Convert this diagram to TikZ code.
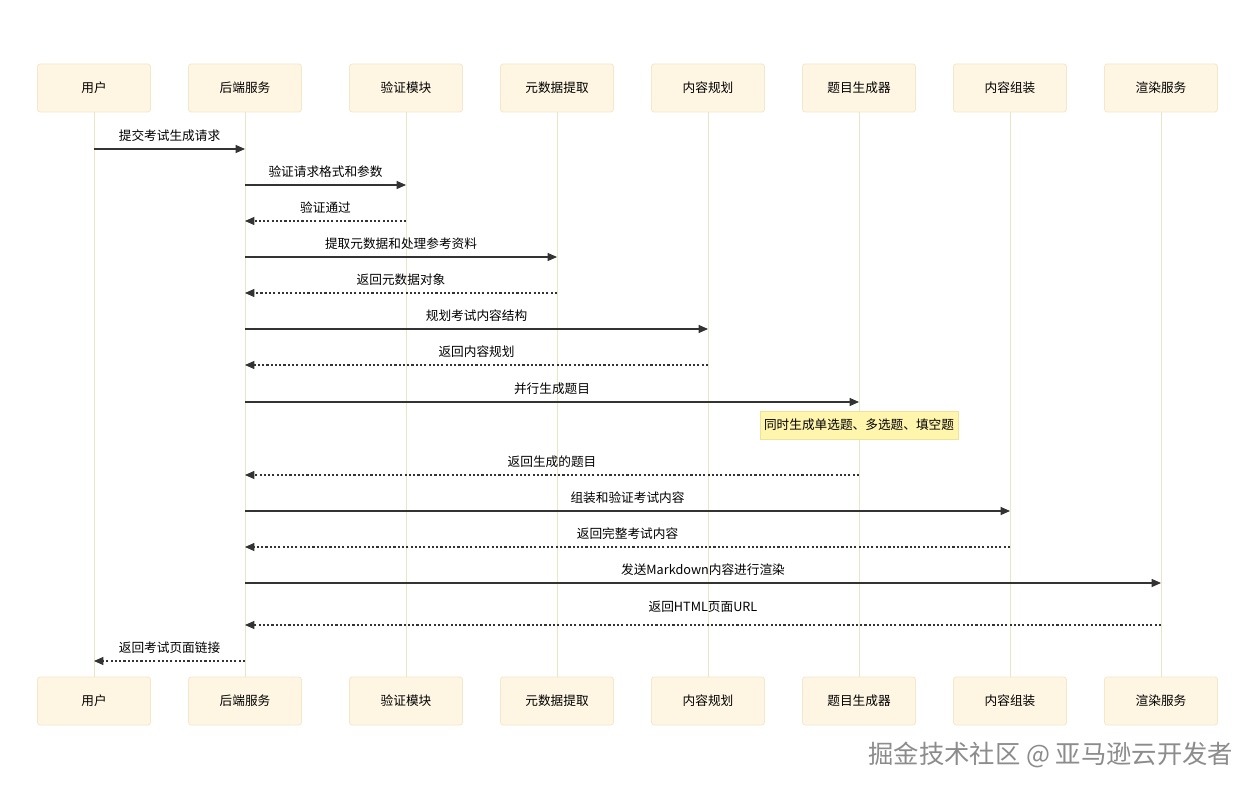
\documentclass[tikz,border=0pt]{standalone}
\usepackage{fontspec}
\setmainfont{Noto Sans CJK SC}
\usepackage{xcolor}
\usepackage{tikz}
\usetikzlibrary{arrows.meta,positioning}
\definecolor{actfill}{HTML}{FEF6E3}
\definecolor{actdraw}{HTML}{F3E8CC}
\definecolor{lifeln}{HTML}{E9E6C4}
\definecolor{notefill}{HTML}{FFF5AD}
\definecolor{notedraw}{HTML}{EEE39C}
\definecolor{msgcol}{HTML}{333333}
\tikzset{
  actor/.style={rectangle, rounded corners=2pt, draw=actdraw, line width=0.6pt,
                fill=actfill, minimum width=84.75pt, minimum height=36pt,
                font=\fontsize{9.5}{11}\selectfont},
  life/.style={draw=lifeln, line width=0.75pt},
  call/.style={-{Triangle[length=7pt,width=6pt]}, line width=0.8pt, draw=msgcol},
  reply/.style={call, dash pattern=on 1.6pt off 1.6pt},
  lbl/.style={above=5pt, inner sep=0pt, font=\fontsize{9.5}{11}\selectfont},
  notebox/.style={rectangle, draw=notedraw, line width=0.6pt, fill=notefill,
                  minimum width=148.5pt, minimum height=21pt, inner sep=2pt,
                  font=\fontsize{9.5}{11}\selectfont}
}
\begin{document}
\begin{tikzpicture}[x=0.75pt, y=-0.75pt]
\useasboundingbox[fill=white] (0,0) rectangle (1255,791);
% participants, top row
\node[actor] (u)    at (94,88)   {用户};
\node[actor] (be)   at (245,88)  {后端服务};
\node[actor] (val)  at (406,88)  {验证模块};
\node[actor] (meta) at (557,88)  {元数据提取};
\node[actor] (plan) at (708,88)  {内容规划};
\node[actor] (gen)  at (859,88)  {题目生成器};
\node[actor] (asm)  at (1010,88) {内容组装};
\node[actor] (rnd)  at (1161,88) {渲染服务};
% participants, bottom row
\node[actor] (u2)    at (94,701)   {用户};
\node[actor] (be2)   at (245,701)  {后端服务};
\node[actor] (val2)  at (406,701)  {验证模块};
\node[actor] (meta2) at (557,701)  {元数据提取};
\node[actor] (plan2) at (708,701)  {内容规划};
\node[actor] (gen2)  at (859,701)  {题目生成器};
\node[actor] (asm2)  at (1010,701) {内容组装};
\node[actor] (rnd2)  at (1161,701) {渲染服务};
% lifelines
\draw[life] (u) -- (u2);
\draw[life] (be) -- (be2);
\draw[life] (val) -- (val2);
\draw[life] (meta) -- (meta2);
\draw[life] (plan) -- (plan2);
\draw[life] (gen) -- (gen2);
\draw[life] (asm) -- (asm2);
\draw[life] (rnd) -- (rnd2);
% messages
\draw[call]  (u |- 0,149) -- node[lbl] {提交考试生成请求} (be |- 0,149);
\draw[call]  (be |- 0,185) -- node[lbl] {验证请求格式和参数} (val |- 0,185);
\draw[reply] (val |- 0,221) -- node[lbl] {验证通过} (be |- 0,221);
\draw[call]  (be |- 0,257) -- node[lbl] {提取元数据和处理参考资料} (meta |- 0,257);
\draw[reply] (meta |- 0,293) -- node[lbl] {返回元数据对象} (be |- 0,293);
\draw[call]  (be |- 0,329) -- node[lbl] {规划考试内容结构} (plan |- 0,329);
\draw[reply] (plan |- 0,365) -- node[lbl] {返回内容规划} (be |- 0,365);
\draw[call]  (be |- 0,402) -- node[lbl] {并行生成题目} (gen |- 0,402);
\node[notebox] (nt) at (859,425) {同时生成单选题、多选题、填空题};
\draw[reply] (gen |- 0,475) -- node[lbl] {返回生成的题目} (be |- 0,475);
\draw[call]  (be |- 0,511) -- node[lbl] {组装和验证考试内容} (asm |- 0,511);
\draw[reply] (asm |- 0,547) -- node[lbl] {返回完整考试内容} (be |- 0,547);
\draw[call]  (be |- 0,583) -- node[lbl] {发送Markdown内容进行渲染} (rnd |- 0,583);
\draw[reply] (rnd |- 0,625) -- node[lbl, above=9pt] {返回HTML页面URL} (be |- 0,625);
\draw[reply] (be |- 0,661) -- node[lbl] {返回考试页面链接} (u |- 0,661);
% watermark
\node[font=\fontsize{19}{21}\selectfont, text=black!45, anchor=east] (wm) at (1238,755) {掘金技术社区 @ 亚马逊云开发者};
\end{tikzpicture}
\end{document}
